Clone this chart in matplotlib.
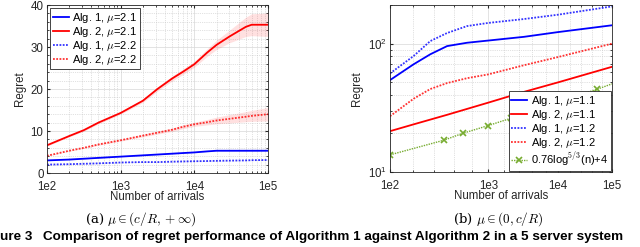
import numpy as np
import matplotlib.pyplot as plt
from matplotlib.ticker import FixedLocator, NullFormatter, MultipleLocator

plt.rcParams['font.family'] = ['Liberation Sans', 'DejaVu Sans']
plt.rcParams['mathtext.fontset'] = 'cm'

# (a) mu in (c/R, +inf)
n_a = [100, 200, 316, 500, 1000, 2000, 3160, 5000, 7000, 10000, 15000, 20000, 30000, 50000, 60000, 100000]
alg1_21 = [3.0, 3.2, 3.4, 3.6, 3.9, 4.2, 4.4, 4.6, 4.75, 4.9, 5.15, 5.3, 5.3, 5.3, 5.3, 5.3]
alg2_21 = [6.6, 8.8, 10.2, 12.0, 14.3, 17.2, 20.0, 22.5, 24.1, 25.9, 28.7, 30.5, 32.5, 34.8, 35.3, 35.3]
alg1_22 = [2.0, 2.1, 2.2, 2.3, 2.5, 2.6, 2.6, 2.7, 2.75, 2.8, 2.85, 2.9, 2.95, 3.0, 3.05, 3.1]
alg2_22 = [4.1, 5.3, 6.0, 6.8, 7.8, 8.9, 9.6, 10.3, 11.0, 11.6, 12.1, 12.5, 12.9, 13.4, 13.6, 14.0]
alg2_21_sd = [0.2, 0.2, 0.25, 0.3, 0.3, 0.4, 0.5, 0.6, 0.65, 0.7, 0.9, 1.1, 1.5, 2.3, 2.6, 2.8]
alg2_22_sd = [0.1, 0.1, 0.15, 0.2, 0.2, 0.3, 0.35, 0.4, 0.45, 0.5, 0.65, 0.8, 1.0, 1.2, 1.3, 1.6]
alg1_21_sd = [0.05] * 16
alg1_22_sd = [0.05] * 16

# (b) mu in (0, c/R)
n_b = [100, 160, 230, 340, 560, 1000, 3000, 10000, 100000]
alg1_11 = [52, 69, 82.6, 95.7, 101.6, 105.7, 113, 123, 139]
alg2_11 = [20.8, 23.5, 25.6, 27.9, 31.0, 34.7, 42.1, 49.9, 66]
alg1_12 = [58.6, 80, 104.7, 121, 137, 145, 155.5, 168, 195]
alg2_12 = [27.2, 37.2, 44.3, 49.3, 53.8, 57.6, 67.9, 78.6, 100]
n_bound = [100, 316, 500, 1000, 2000, 5000, 10000, 20000, 50000, 100000]
bound = [13.6, 17.7, 20.0, 23.0, 26.3, 31.0, 34.8, 38.9, 44.1, 48.6]

xt = [100, 1000, 10000, 100000]
xtl = ['1e2', '1e3', '1e4', '1e5']

BLUE, RED, GREEN = '#0000ff', '#ff0000', '#77ac30'
DOT = (0, (1, 0.8))
FS = 8.3


def style(ax):
    ax.tick_params(which='both', direction='in', top=True, right=True,
                   labelsize=FS, colors='#262626', length=2.5)
    ax.tick_params(axis='x', pad=5.5)
    ax.tick_params(axis='y', pad=2.5)
    ax.tick_params(which='minor', length=1.5)
    for s in ax.spines.values():
        s.set_color('#262626')
        s.set_linewidth(0.6)
    ax.grid(True, which='major', color='#d8d8d8', lw=0.5)
    ax.grid(True, which='minor', color='#c4c4c4', lw=0.5, ls=':')
    ax.set_axisbelow(True)
    ax.set_xlabel('Number of arrivals', fontsize=FS, color='#262626', labelpad=-1)
    ax.set_ylabel('Regret', fontsize=FS, color='#262626', labelpad=3)


def add_legend(ax, loc, pad):
    leg = ax.legend(loc=loc, fontsize=8, handlelength=1.45, handletextpad=0.3,
                    labelspacing=0.0, borderpad=0.25, borderaxespad=pad, fancybox=False,
                    framealpha=1, edgecolor='#262626')
    leg.get_frame().set_linewidth(0.6)


fig = plt.figure(figsize=(6.4, 2.47), dpi=100)
ax1 = fig.add_axes([47 / 640, 1 - 173 / 247, 221 / 640, 168 / 247])
ax2 = fig.add_axes([390 / 640, 1 - 172 / 247, 222 / 640, 167 / 247])

# left panel
na = np.array(n_a)
for y, sd, c in [(alg2_21, alg2_21_sd, RED), (alg2_22, alg2_22_sd, RED),
                 (alg1_21, alg1_21_sd, BLUE), (alg1_22, alg1_22_sd, BLUE)]:
    y, sd = np.array(y), np.array(sd)
    ax1.fill_between(na, y - sd, y + sd, color=c, alpha=0.12, lw=0)
ax1.plot(na, alg1_21, color=BLUE, lw=1.3, label=r'Alg. 1, $\mu$=2.1')
ax1.plot(na, alg2_21, color=RED, lw=1.3, label=r'Alg. 2, $\mu$=2.1')
ax1.plot(na, alg1_22, color=BLUE, lw=1.3, ls=DOT, alpha=0.8, label=r'Alg. 1, $\mu$=2.2')
ax1.plot(na, alg2_22, color=RED, lw=1.3, ls=DOT, alpha=0.8, label=r'Alg. 2, $\mu$=2.2')
ax1.set_xscale('log')
ax1.set_xlim(100, 100000)
ax1.set_ylim(0, 40)
ax1.set_xticks(xt)
ax1.set_xticklabels(xtl)
ax1.yaxis.set_major_locator(MultipleLocator(10))
ax1.yaxis.set_minor_locator(MultipleLocator(2))
style(ax1)
add_legend(ax1, 'upper left', 0.25)

# right panel: x axis is log-scaled in log10(n)
ax2.set_xscale('function', functions=(lambda v: np.log10(np.log10(np.clip(v, 1.0001, None))),
                                      lambda u: 10 ** (10 ** u)))
ax2.plot(n_b, alg1_11, color=BLUE, lw=1.3, label=r'Alg. 1, $\mu$=1.1')
ax2.plot(n_b, alg2_11, color=RED, lw=1.3, label=r'Alg. 2, $\mu$=1.1')
ax2.plot(n_b, alg1_12, color=BLUE, lw=1.3, ls=DOT, alpha=0.8, label=r'Alg. 1, $\mu$=1.2')
ax2.plot(n_b, alg2_12, color=RED, lw=1.3, ls=DOT, alpha=0.8, label=r'Alg. 2, $\mu$=1.2')
ax2.plot(n_bound, bound, color=GREEN, lw=1.0, ls=DOT, marker='x', ms=4, mew=1.2,
         markevery=list(range(9)), label=r'0.76log$^{5/3}$(n)+4')
ax2.set_yscale('log')
ax2.set_xlim(100, 100000)
ax2.set_ylim(10, 200)
ax2.xaxis.set_major_locator(FixedLocator(xt))
ax2.set_xticklabels(xtl)
ax2.xaxis.set_minor_locator(FixedLocator([10 ** (2 + 0.2 * k) for k in range(1, 15) if k % 5]))
ax2.xaxis.set_minor_formatter(NullFormatter())
ax2.yaxis.set_minor_formatter(NullFormatter())
style(ax2)
add_legend(ax2, 'lower right', 0.1)

# captions
fig.text(141 / 640, 1 - 219 / 247, r'(a) $\mu \in (c/R, +\infty)$', ha='center', va='center',
         fontsize=9.5, family='DejaVu Serif')
fig.text(498 / 640, 1 - 219 / 247, r'(b) $\mu \in (0, c/R)$', ha='center', va='center',
         fontsize=9.5, family='DejaVu Serif')
fig.text(0, 1 - 237 / 247, 'ure 3', ha='left', va='center', fontsize=9.7, fontweight='bold')
fig.text(43 / 640, 1 - 237 / 247,
         'Comparison of regret performance of Algorithm 1 against Algorithm 2 in a 5 server system',
         ha='left', va='center', fontsize=9.7, fontweight='bold')

fig.savefig('out.png', dpi=100)
